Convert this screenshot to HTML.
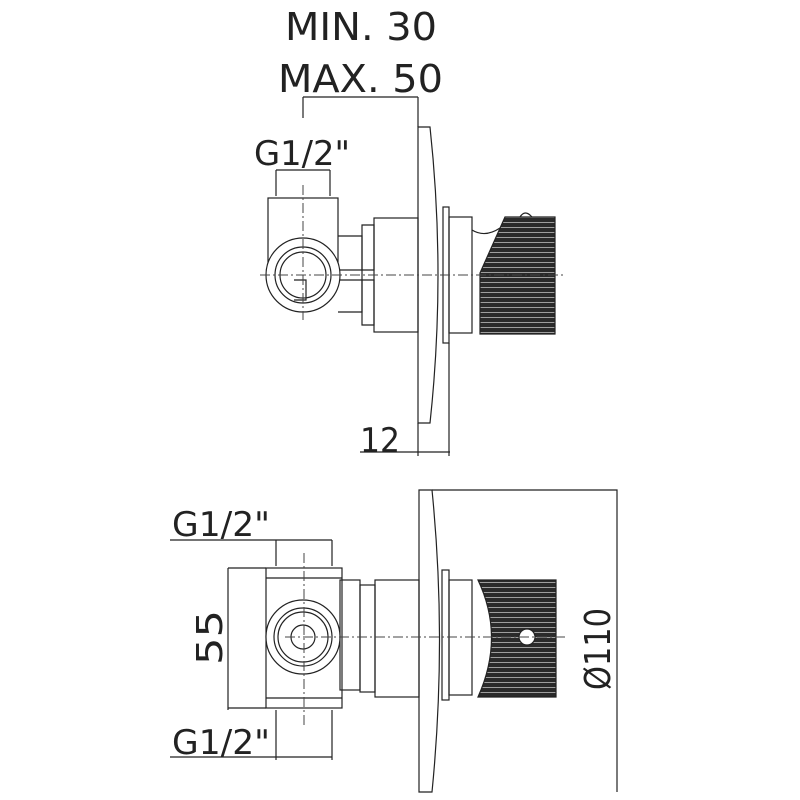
<!DOCTYPE html>
<html><head><style>html,body{margin:0;padding:0;background:#fff}svg{display:block}</style></head><body>
<svg width="800" height="800" viewBox="0 0 800 800" xmlns="http://www.w3.org/2000/svg">
<defs>
<pattern id="rib" width="6" height="5" patternUnits="userSpaceOnUse">
<rect width="6" height="5" fill="#2a2a2a"/><line x1="0" y1="2.5" x2="6" y2="2.5" stroke="#bbb" stroke-width="0.8"/>
</pattern>
</defs>
<g font-family="'DejaVu Sans','Liberation Sans',sans-serif" fill="#222" font-size="38">
<text x="285" y="40" textLength="152" lengthAdjust="spacingAndGlyphs">MIN. 30</text>
<text x="278" y="92" textLength="165" lengthAdjust="spacingAndGlyphs">MAX. 50</text>
<text x="254" y="165" font-size="34" textLength="96" lengthAdjust="spacingAndGlyphs">G1/2"</text>
<text x="360" y="452" font-size="34" textLength="40" lengthAdjust="spacingAndGlyphs">12</text>
<text x="172" y="536" font-size="34" textLength="98" lengthAdjust="spacingAndGlyphs">G1/2"</text>
<text x="172" y="754" font-size="34" textLength="98" lengthAdjust="spacingAndGlyphs">G1/2"</text>
<text transform="translate(222,665) rotate(-90)" font-size="36" textLength="55" lengthAdjust="spacingAndGlyphs">55</text>
<text transform="translate(610,690) rotate(-90)" font-size="36" textLength="82" lengthAdjust="spacingAndGlyphs">Ø110</text>
</g>
<g fill="none" stroke="#222" stroke-width="1.2">
<path d="M303 97H418M303 97V118M418 97V127"/>
<path d="M276 170H330M276 170V196M330 170V196"/>
<path d="M360 452H450M418 423V456M449 343V456"/>
<path d="M418 127H430Q446 275 430 423H418Z"/>
<rect x="443" y="207" width="6" height="136"/>
<rect x="449" y="217" width="23" height="116"/>
<rect x="374" y="218" width="44" height="114"/>
<path d="M362 225H374V270H362ZM362 280H374V325H362Z"/>
<path d="M338 236H362V312H338"/>
<path d="M338 270H362M338 280H362"/>
<rect x="268" y="198" width="70" height="80"/>
<circle cx="303" cy="275" r="37" fill="#fff"/>
<circle cx="303" cy="275" r="28"/>
<circle cx="303" cy="275" r="23"/>
<path d="M294 280H306V300H294"/>
<path d="M472 230Q485 238 500 228"/>
<path d="M505 217L480 273V334H555V217Z" fill="url(#rib)" stroke="#222"/>
<path d="M520 217Q525 209 532 217"/>
<path d="M419 490H432Q447 640 432 792H419Z"/>
<path d="M432 490H617V792"/>
<path d="M170 540H332M276 540V566M332 540V566"/>
<path d="M170 757H332M276 710V760M332 710V760"/>
<path d="M228 568V710M228 568H266M228 708H266"/>
<rect x="442" y="570" width="7" height="130"/>
<rect x="449" y="580" width="23" height="115"/>
<rect x="375" y="580" width="44" height="117"/>
<rect x="360" y="585" width="15" height="107"/>
<rect x="340" y="580" width="20" height="110"/>
<rect x="266" y="568" width="76" height="140"/>
<path d="M266 578H342M266 698H342"/>
<circle cx="303" cy="637" r="37" fill="#fff"/>
<circle cx="303" cy="637" r="29"/>
<circle cx="303" cy="637" r="25"/>
<circle cx="303" cy="637" r="12"/>
<path d="M478 580H556V697H478Q505 637 478 580Z" fill="url(#rib)" stroke="#222"/>
<circle cx="527" cy="637" r="8" fill="#fff"/>
</g>
<g stroke="#444" stroke-width="1" stroke-dasharray="10,3,2,3" fill="none">
<path d="M260 275H565M303 185V320"/>
<path d="M285 637H565M304 553V725"/>
</g>
</svg>
</body></html>
